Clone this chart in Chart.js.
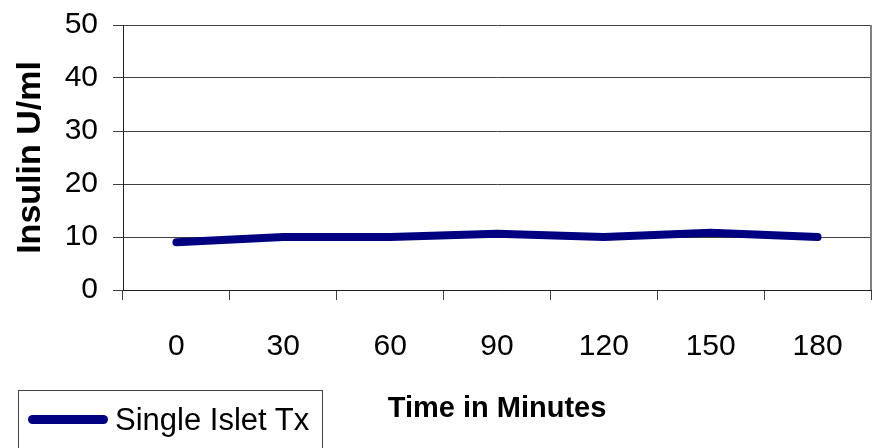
<!DOCTYPE html>
<html>
<head>
<meta charset="utf-8">
<script src="https://cdn.jsdelivr.net/npm/chart.js@4.4.1/dist/chart.umd.min.js"></script>
<style>
  html, body { margin: 0; padding: 0; background: #fff; }
  #wrap { position: relative; width: 875px; height: 448px; overflow: hidden; }
  #legend {
    position: absolute; left: 18px; top: 390px; width: 305px; height: 80px;
    border: 1px solid #444; box-sizing: border-box;
    font-family: "Liberation Sans", Arial, sans-serif; font-size: 31px; color: #000;
  }
  #legend .swatch {
    position: absolute; left: 9px; top: 24px; width: 80px; height: 9px;
    background: #000080; border-radius: 5px;
  }
  #legend .txt { position: absolute; left: 96px; top: 11px; white-space: nowrap; }
</style>
</head>
<body>
<div id="wrap">
  <canvas id="chart" width="875" height="448"></canvas>
  <div id="legend"><div class="swatch"></div><span class="txt" id="legendText"></span></div>
</div>
<script>
// chart data
const minutes = ['0', '30', '60', '90', '120', '150', '180'];
const insulin = [9, 10, 10, 10.6, 10, 10.8, 10];
const seriesName = 'Single Islet Tx';
const yTicks = [0, 10, 20, 30, 40, 50];

const fontFamily = '"Liberation Sans", Arial, sans-serif';

document.getElementById('legendText').textContent = seriesName;

// grey right border of the plot area
const rightBorder = {
    id: 'rightBorder',
    afterDraw(chart) {
        const { ctx, chartArea } = chart;
        ctx.save();
        ctx.strokeStyle = '#808080';
        ctx.lineWidth = 2;
        ctx.beginPath();
        ctx.moveTo(chartArea.right, chartArea.top);
        ctx.lineTo(chartArea.right, chartArea.bottom);
        ctx.stroke();
        ctx.restore();
    }
};

new Chart(document.getElementById('chart').getContext('2d'), {
    type: 'line',
    data: {
        labels: minutes,
        datasets: [{
            label: seriesName,
            data: insulin,
            borderColor: '#000080',
            backgroundColor: '#000080',
            borderWidth: 8,
            borderCapStyle: 'round',
            borderJoinStyle: 'round',
            pointRadius: 0,
            tension: 0
        }]
    },
    options: {
        responsive: false,
        animation: false,
        layout: { padding: { top: 25, right: 4, left: 0, bottom: 0 } },
        plugins: {
            legend: { display: false },
            tooltip: { enabled: false }
        },
        scales: {
            x: {
                offset: true,
                afterFit: (scale) => { scale.height = 158; },
                grid: {
                    offset: true,
                    drawOnChartArea: false,
                    drawTicks: true,
                    tickLength: 10,
                    color: '#404040'
                },
                border: { color: '#202020', width: 1 },
                ticks: {
                    color: '#000',
                    padding: 29,
                    font: { family: fontFamily, size: 30 }
                },
                title: {
                    display: true,
                    text: 'Time in Minutes',
                    color: '#000',
                    padding: { top: 0, bottom: 22 },
                    font: { family: fontFamily, size: 29, weight: 'bold' }
                }
            },
            y: {
                min: 0,
                max: 50,
                afterFit: (scale) => {
                    scale.width = 123;
                    scale.paddingTop = 0;
                    scale.paddingBottom = 0;
                },
                afterBuildTicks: (scale) => { scale.ticks = yTicks.map(v => ({ value: v })); },
                grid: {
                    drawTicks: true,
                    tickLength: 10,
                    color: '#404040'
                },
                border: { color: '#202020', width: 1 },
                ticks: {
                    color: '#000',
                    padding: 15,
                    font: { family: fontFamily, size: 30 }
                },
                title: {
                    display: true,
                    text: 'Insulin U/ml',
                    color: '#000',
                    padding: { top: 10, bottom: 0 },
                    font: { family: fontFamily, size: 34, weight: 'bold' }
                }
            }
        }
    },
    plugins: [rightBorder]
});
</script>
</body>
</html>
